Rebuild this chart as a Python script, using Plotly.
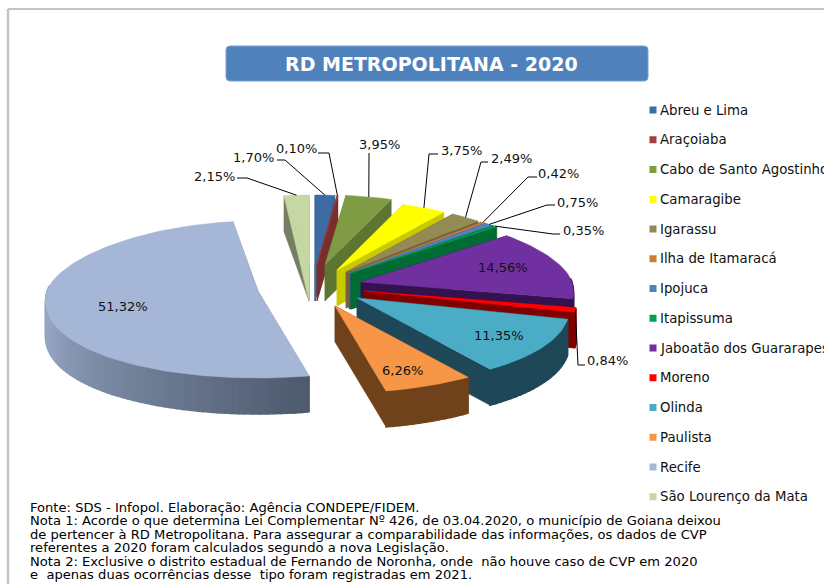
import math
import plotly.graph_objects as go

# ---------- data ----------
categories = ["Abreu e Lima", "Araçoiaba", "Cabo de Santo Agostinho", "Camaragibe", "Igarassu",
              "Ilha de Itamaracá", "Ipojuca", "Itapissuma", "Jaboatão dos Guararapes", "Moreno",
              "Olinda", "Paulista", "Recife", "São Lourenço da Mata"]
values = [1.70, 0.10, 3.95, 3.75, 2.49, 0.42, 0.75, 0.35, 14.56, 0.84, 11.35, 6.26, 51.32, 2.15]
title = "RD METROPOLITANA - 2020"
footnotes = ["Fonte: SDS - Infopol. Elaboração: Agência CONDEPE/FIDEM.",
             "Nota 1: Acorde o que determina Lei Complementar Nº 426, de 03.04.2020, o município de Goiana deixou",
             "de pertencer à RD Metropolitana. Para assegurar a comparabilidade das informações, os dados de CVP",
             "referentes a 2020 foram calculados segundo a nova Legislação.",
             "Nota 2: Exclusive o distrito estadual de Fernando de Noronha, onde  não houve caso de CVP em 2020",
             "e  apenas duas ocorrências desse  tipo foram registradas em 2021."]

# ---------- style ----------
face = ["#3d6ba3", "#a33f3c", "#7f9c45", "#ffff00", "#948a54", "#cc7c36", "#4f81bd", "#00a04f",
        "#7030a0", "#ff0000", "#4bacc6", "#f79646", "#a6b6d6", "#c5d7a2"]
wall = ["#2c4d76", "#7a2d2b", "#5d7432", "#c9c900", "#6e663e", "#8d5524", "#3a5f8c", "#006b35",
        "#34124f", "#800000", "#1e4757", "#70421b", "#8494ae", "#757e63"]
# slice apex offsets from pie centre (screen px: explosion of each slice)
CX, CY = 322, 283
explode = [(-7, -18), (-5, -18), (3, -18), (15, -13), (24, -11), (27, -10), (28, -10), (29, -10),
           (39, -1), (42, 8), (35, 15), (13, 23), (-64, 8), (-13, -18)]
A, B_UP, B_DN, K, H = 211, 70, 87, 0.12, 36

# label x, label y, elbow x, elbow y in page px
outside = {0: (253, 157, 285, 160), 1: (296, 148, 329, 153), 2: (379, 144, 369, 153),
           3: (461, 150, 429, 154), 4: (511, 158, 481, 162), 5: (558, 173, 528, 177),
           6: (577, 202, 547, 205), 7: (583, 230, 553, 234), 9: (607, 360, 578, 365),
           13: (214, 176, 247, 178)}
inside = {8: (503, 267), 10: (499, 335), 11: (402, 370), 12: (123, 306)}
label_line_end = {0: 277, 1: 318, 3: 438, 4: 488, 5: 537, 6: 555, 7: 560, 9: 585, 13: 237}
# slices whose face reads as running down to the foot of the apex: slice -> far rim angle side
tall_faces = {0: 1, 13: 0}

fig = go.Figure()


def poly(xs, ys, color, width=0.5):
    fig.add_trace(go.Scatter(x=xs, y=ys, mode="lines", fill="toself", fillcolor=color,
                             line=dict(color=color, width=width), hoverinfo="skip", showlegend=False))


def rim(t, ax, ay):
    s, c = math.sin(t), math.cos(t)
    return ax + A * (1 - K * c) * s, ay - (B_UP if c > 0 else B_DN) * c


def mix(c1, c2, f):
    a = [int(c1[i:i + 2], 16) for i in (1, 3, 5)]
    b = [int(c2[i:i + 2], 16) for i in (1, 3, 5)]
    return "rgb(%d,%d,%d)" % tuple(a[i] + (b[i] - a[i]) * f for i in range(3))


# ---------- pie geometry from the values ----------
total = sum(values)
edges = [0]
for v in values:
    edges.append(edges[-1] + v / total * 2 * math.pi)

order = [13, 0, 1, 2, 3, 4, 5, 6, 7, 8, 9, 10, 11, 12]
mid_pts = {}
for i in order:
    t0, t1 = edges[i], edges[i + 1]
    ax, ay = CX + explode[i][0], CY + explode[i][1]
    n = max(4, int((t1 - t0) / 0.03))
    ts = [t0 + (t1 - t0) * j / n for j in range(n + 1)]
    arc = [rim(t, ax, ay) for t in ts]
    mid_pts[i] = rim((t0 + t1) / 2, ax, ay)
    # cut walls
    for t_end in (t0, t1):
        px, py = rim(t_end, ax, ay)
        poly([ax, px, px, ax, ax], [ay, py, py + H, ay + H, ay], wall[i])
    # outer wall, in strips so that it can shade across the slice
    strips = [j for j in range(n) if math.cos(ts[j]) < 0.05 or math.cos(ts[j + 1]) < 0.05]
    for j in strips:
        (x0, y0), (x1, y1) = arc[j], arc[j + 1]
        if i == 12:
            col = mix("#4e5a6e", "#94a5c2", min(1, (ts[j] - t0) / (t1 - t0) * 2.2))
        else:
            col = wall[i]
        poly([x0, x1, x1, x0, x0], [y0, y1, y1 + H, y0 + H, y0], col, width=1.5)
    # top face
    poly([ax] + [p[0] for p in arc] + [ax], [ay] + [p[1] for p in arc] + [ay], face[i])
    if i in tall_faces:
        fx, fy = rim(edges[i + tall_faces[i]], ax, ay)
        poly([ax, fx, ax, ax], [ay + H, fy, ay, ay + H], face[i])

# leader lines
for i, (lx, ly, ex, ey) in outside.items():
    sx, sy = mid_pts[i]
    end = label_line_end.get(i, ex)
    fig.add_trace(go.Scatter(x=[sx, ex, end], y=[sy, ey, ey], mode="lines",
                             line=dict(color="#000000", width=1), hoverinfo="skip", showlegend=False))

# legend swatches
legend_x, legend_y0, legend_dy = 653, 110, 29.75
fig.add_trace(go.Scatter(x=[legend_x] * len(categories),
                         y=[legend_y0 + legend_dy * k for k in range(len(categories))],
                         mode="markers", marker=dict(symbol="square", size=7, color=face),
                         hoverinfo="skip", showlegend=False))

FONT = "DejaVu Sans, sans-serif"
ann = []
fmt = lambda v: f"{v:.2f}".replace(".", ",") + "%"
for i, (lx, ly, _, _) in outside.items():
    ann.append(dict(x=lx, y=ly, text=fmt(values[i]), showarrow=False, font=dict(size=13, color="#111")))
for i, (lx, ly) in inside.items():
    ann.append(dict(x=lx, y=ly, text=fmt(values[i]), showarrow=False, font=dict(size=13, color="#111")))
for k, c in enumerate(categories):
    ann.append(dict(x=legend_x + 5, y=legend_y0 + legend_dy * k, text=c, xanchor="left", showarrow=False,
                    font=dict(size=13.3, color="#111")))
for y, line in zip([507, 520.5, 534, 547.5, 561, 574.5], footnotes):
    ann.append(dict(x=28, y=y, text=line, xanchor="left", showarrow=False, font=dict(size=13.1, color="#000")))
ann.append(dict(x=431, y=64, text="<b>%s</b>" % title, showarrow=False, font=dict(size=19, color="#ffffff")))

title_box = "M 230 46 H 644 Q 648 46 648 50 V 77 Q 648 81 644 81 H 230 Q 226 81 226 77 V 50 Q 226 46 230 46 Z"
fig.update_layout(
    width=824, height=584, margin=dict(l=0, r=0, t=0, b=0), paper_bgcolor="#ffffff", plot_bgcolor="#ffffff",
    font=dict(family=FONT), showlegend=False,
    xaxis=dict(range=[0, 824], visible=False, fixedrange=True),
    yaxis=dict(range=[584, 0], visible=False, fixedrange=True),
    annotations=ann,
    shapes=[
        dict(type="path", path=title_box, fillcolor="#4f81bd", line=dict(color="#7ba0cd", width=1), layer="below"),
        dict(type="line", x0=8, x1=8, y0=9, y1=584, line=dict(color="#c4c4c4", width=2.5), layer="below"),
        dict(type="line", x0=8, x1=824, y0=9, y1=9, line=dict(color="#c4c4c4", width=2), layer="below"),
    ],
)
for a_ in fig.layout.annotations:
    a_.update(xref="x", yref="y")
fig.write_html("out.html", config=dict(displayModeBar=False),
               post_script="document.body.style.margin='0';document.documentElement.style.overflow='hidden';")
